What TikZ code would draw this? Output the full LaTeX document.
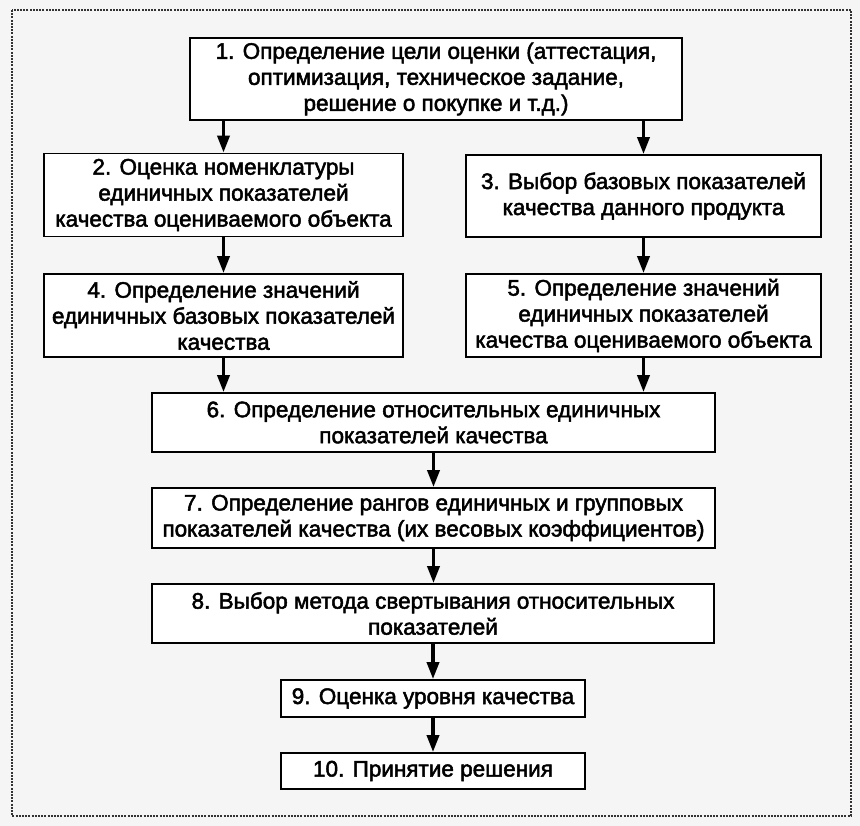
\documentclass[tikz,border=0pt]{standalone}
\usepackage{fontspec}
\setmainfont{Liberation Sans}[FakeBold=2.2]
\usetikzlibrary{arrows.meta}
\begin{document}
\begin{tikzpicture}[x=1pt,y=-1pt,
  box/.style={draw=black,line width=1.8pt,fill=white,align=center,inner sep=0pt,
    font=\fontsize{22.5}{26}\selectfont},
  arr/.style={line width=3.6pt,-{Triangle[width=12pt,length=17pt]}},
  frame/.style={line width=2pt,dash pattern=on 2pt off 1.2pt,black!80}]
\useasboundingbox (0,0) rectangle (860,826);
\fill[black!4] (0,0) rectangle (860,826);
\draw[frame] (12,10) rectangle (851,816);
\node[box,minimum width=492pt,minimum height=82pt] (b1) at (436,79)
  {1. Определение цели оценки (аттестация,\\оптимизация, техническое задание,\\решение о покупке и т.д.)};
\node[box,minimum width=359pt,minimum height=83pt] (b2) at (223.5,195)
  {2. Оценка номенклатуры\\единичных показателей\\качества оцениваемого объекта};
\node[box,minimum width=355pt,minimum height=82pt] (b3) at (643.5,196)
  {3. Выбор базовых показателей\\качества данного продукта};
\node[box,minimum width=359pt,minimum height=83pt] (b4) at (223.5,315.5)
  {4. Определение значений\\единичных базовых показателей\\качества};
\node[box,minimum width=355pt,minimum height=83pt] (b5) at (643.5,315.5)
  {5. Определение значений\\единичных показателей\\качества оцениваемого объекта};
\node[box,minimum width=563pt,minimum height=59pt] (b6) at (433.5,422.5)
  {6. Определение относительных единичных\\показателей качества};
\node[box,minimum width=563pt,minimum height=60pt] (b7) at (433.5,518)
  {7. Определение рангов единичных и групповых\\показателей качества (их весовых коэффициентов)};
\node[box,minimum width=562pt,minimum height=59pt] (b8) at (433,613.5)
  {8. Выбор метода свертывания относительных\\показателей};
\node[box,minimum width=304pt,minimum height=37pt] (b9) at (433,698.5)
  {9. Оценка уровня качества};
\node[box,minimum width=304pt,minimum height=36pt] (b10) at (433,771)
  {10. Принятие решения};
\draw[arr] (b1.south -| b2) -- (b2.north);
\draw[arr] (b1.south -| b5) -- (b3.north);
\draw[arr] (b2.south) -- (b4.north);
\draw[arr] (b3.south) -- (b5.north);
\draw[arr] (b4.south) -- (b6.north -| b4);
\draw[arr] (b5.south) -- (b6.north -| b5);
\draw[arr] (b6.south) -- (b7.north);
\draw[arr] (b7.south) -- (b8.north -| b7);
\draw[arr] (b8.south -| b9) -- (b9.north);
\draw[arr] (b9.south) -- (b10.north);
\end{tikzpicture}
\end{document}
